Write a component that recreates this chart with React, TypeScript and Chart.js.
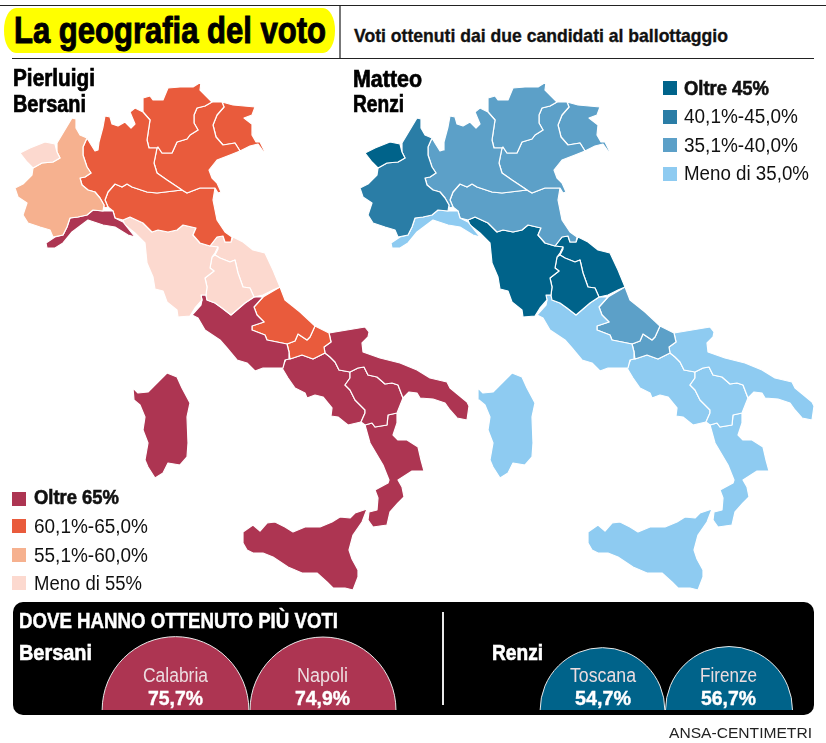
import React, { useEffect, useRef } from "react";
import { Chart, registerables, BubbleController } from "chart.js";

Chart.register(...registerables);

// Half discs are cut by the canvas edge, so the chart area must not shrink to fit full circles.
class DomeController extends BubbleController {
  static id = "dome";
  getMaxOverflow() {
    return 0;
  }
}
Chart.register(DomeController);

type Pt = [number, number];

// Region outlines, in the coordinates of the left-hand map.
const AOSTA: Pt[] = [[20,153],[30,148],[45,142],[55,144],[57,152],[60,158],[53,162],[42,163],[33,168],[27,162]];
const PIEMONTE: Pt[] = [[72,118],[76,119],[76,128],[80,135],[87,138],[83,147],[83,155],[87,167],[91,173],[85,177],[80,178],[82,185],[88,190],[95,192],[100,198],[104,205],[103,211],[93,210],[87,215],[78,217],[70,218],[67,227],[63,235],[53,237],[50,230],[40,227],[28,223],[23,215],[27,203],[18,197],[15,188],[23,184],[32,175],[33,168],[42,163],[53,162],[60,158],[57,152],[57,143],[63,133]];
const LIGURIA: Pt[] = [[70,218],[78,217],[87,215],[93,210],[103,211],[113,211],[115,218],[123,222],[135,237],[128,235],[115,227],[103,225],[88,220],[72,232],[63,243],[55,248],[47,248],[46,243],[55,237],[63,235],[67,227]];
const LOMBARDIA: Pt[] = [[105,116],[110,117],[112,124],[118,126],[125,122],[131,128],[135,124],[130,112],[135,108],[143,112],[150,120],[147,140],[149,148],[157,148],[154,163],[157,173],[167,180],[182,190],[157,193],[147,192],[132,187],[127,184],[122,187],[115,184],[108,192],[105,200],[108,207],[104,208],[104,205],[100,198],[95,192],[88,190],[82,185],[80,178],[85,177],[91,173],[87,167],[83,155],[83,147],[87,138],[90,143],[95,151],[98,150],[99,142],[103,127]];
const TRENTINO: Pt[] = [[143,98],[150,96],[153,100],[163,100],[168,88],[180,87],[193,87],[201,82],[200,90],[212,102],[205,106],[197,108],[194,115],[194,123],[198,130],[190,135],[187,139],[177,142],[172,153],[162,153],[158,147],[157,148],[149,148],[147,140],[150,120],[143,112],[143,105]];
const VENETO: Pt[] = [[212,102],[222,102],[224,107],[217,115],[213,125],[216,137],[223,145],[235,143],[240,151],[230,155],[217,160],[209,170],[212,178],[217,183],[221,192],[218,193],[215,188],[200,188],[187,193],[182,190],[167,180],[157,173],[154,163],[157,148],[158,147],[162,153],[172,153],[177,142],[187,139],[190,135],[198,130],[194,123],[194,115],[197,108],[205,106]];
const FRIULI: Pt[] = [[222,102],[233,105],[255,107],[252,115],[244,118],[253,125],[252,135],[256,142],[260,142],[265,152],[263,151],[258,144],[250,146],[240,151],[235,143],[223,145],[216,137],[213,125],[217,115],[224,107]];
const EMILIA: Pt[] = [[115,184],[122,187],[127,184],[132,187],[147,192],[157,193],[182,190],[187,193],[200,188],[215,188],[213,200],[217,220],[225,232],[232,237],[231,242],[225,242],[223,236],[217,237],[210,246],[200,243],[193,235],[196,228],[183,225],[177,230],[168,232],[158,230],[152,232],[143,223],[130,217],[123,220],[115,218],[113,211],[108,207],[105,200],[108,192]];
const TOSCANA: Pt[] = [[123,220],[130,217],[143,223],[152,232],[158,230],[168,232],[177,230],[183,225],[196,228],[193,235],[200,243],[210,246],[218,247],[215,253],[212,257],[210,268],[214,271],[205,278],[207,287],[206,295],[201,295],[202,300],[195,308],[190,316],[178,317],[177,310],[167,302],[163,291],[155,289],[153,277],[147,263],[145,243],[135,233],[125,225]];
const UMBRIA: Pt[] = [[215,255],[220,258],[230,262],[235,260],[238,273],[243,287],[250,288],[254,297],[245,303],[231,315],[222,308],[215,303],[207,300],[206,295],[207,287],[205,278],[214,271],[210,268],[212,257]];
const MARCHE: Pt[] = [[210,246],[217,237],[223,236],[225,242],[231,242],[233,237],[243,242],[253,250],[265,253],[273,270],[280,287],[273,290],[263,295],[254,297],[250,288],[243,287],[238,273],[235,260],[230,262],[220,258],[215,255],[218,249],[218,247]];
const LAZIO: Pt[] = [[192,315],[201,305],[202,300],[201,295],[206,295],[207,300],[215,303],[222,308],[231,315],[245,303],[254,297],[263,297],[254,307],[257,315],[264,322],[252,326],[252,330],[265,335],[267,340],[287,344],[289,352],[289,359],[285,360],[283,368],[273,368],[263,368],[255,371],[247,363],[237,360],[227,348],[220,340],[205,330],[198,318]];
const ABRUZZO: Pt[] = [[263,297],[280,287],[285,300],[300,312],[315,326],[310,337],[307,340],[298,334],[295,341],[287,344],[267,340],[265,335],[252,330],[252,326],[264,322],[257,315],[254,307]];
const MOLISE: Pt[] = [[315,326],[329,333],[331,342],[324,347],[325,353],[313,359],[302,355],[290,359],[289,352],[287,344],[295,341],[298,334],[307,340],[310,337]];
const PUGLIA: Pt[] = [[329,333],[347,330],[365,327],[369,332],[368,337],[362,343],[363,352],[380,358],[400,363],[417,370],[430,378],[447,382],[450,388],[467,402],[469,406],[467,420],[457,418],[450,410],[445,403],[433,399],[420,398],[417,393],[409,392],[403,398],[398,385],[392,383],[385,384],[377,377],[368,375],[364,367],[358,368],[350,372],[339,370],[335,362],[330,357],[325,353],[324,347],[331,342]];
const BASILICATA: Pt[] = [[350,372],[358,368],[364,367],[368,375],[377,377],[385,384],[392,383],[398,385],[403,398],[397,413],[388,415],[387,425],[375,427],[372,423],[365,425],[361,422],[365,413],[365,410],[355,400],[350,390],[345,385],[350,378]];
const CAMPANIA: Pt[] = [[282,368],[286,359],[290,359],[302,355],[313,359],[325,353],[330,357],[335,362],[339,370],[350,372],[350,378],[345,385],[350,390],[355,400],[365,410],[365,413],[361,422],[348,425],[338,417],[331,416],[332,408],[323,397],[315,395],[307,398],[305,393],[295,388],[288,378]];
const CALABRIA: Pt[] = [[365,425],[370,443],[383,465],[389,480],[388,483],[375,490],[378,498],[377,510],[369,512],[368,520],[373,527],[387,525],[390,512],[398,503],[404,497],[402,487],[398,480],[412,471],[424,471],[421,460],[418,447],[407,440],[398,440],[393,435],[397,423],[397,413],[388,415],[387,425],[375,427],[372,423]];
const SICILIA: Pt[] = [[243,532],[253,525],[260,531],[267,523],[275,522],[285,527],[293,532],[305,527],[320,527],[332,522],[340,517],[350,518],[355,513],[367,509],[362,522],[353,535],[349,550],[352,559],[358,570],[358,577],[353,590],[345,588],[333,588],[327,582],[317,573],[302,573],[288,567],[273,557],[263,553],[253,553],[247,550],[243,543]];
const SARDEGNA: Pt[] = [[133,388],[138,393],[148,392],[157,383],[167,373],[177,377],[182,388],[190,403],[187,417],[188,443],[187,457],[180,465],[168,463],[163,473],[155,478],[148,467],[145,460],[148,443],[143,430],[145,417],[140,405],[134,400]];

const REGIONS: Pt[][] = [AOSTA, PIEMONTE, LIGURIA, LOMBARDIA, TRENTINO, VENETO, FRIULI, EMILIA, TOSCANA, UMBRIA, MARCHE, LAZIO, ABRUZZO, MOLISE, PUGLIA, BASILICATA, CAMPANIA, CALABRIA, SICILIA, SARDEGNA];

// Vote class of each region, in the order of REGIONS: 0 = top band, 3 = lowest.
const BERSANI_CLASS = [3, 2, 0, 1, 1, 1, 1, 1, 3, 3, 3, 0, 1, 1, 0, 0, 0, 0, 0, 0];
const RENZI_CLASS = [0, 1, 3, 2, 2, 2, 2, 2, 0, 0, 0, 3, 2, 2, 3, 3, 3, 3, 3, 3];

const BERSANI_COLORS = ["#ad3552", "#e95b3c", "#f6b18f", "#fcd9cf"];
const RENZI_COLORS = ["#00638a", "#2a7da6", "#5ca0c8", "#8ecbf1"];
const BERSANI_LEGEND = ["Oltre 65%", "60,1%-65,0%", "55,1%-60,0%", "Meno di 55%"];
const RENZI_LEGEND = ["Oltre 45%", "40,1%-45,0%", "35,1%-40,0%", "Meno di 35,0%"];

const TOP_NAMES = ["Calabria", "Napoli", "Toscana", "Firenze"];
const TOP_VALUES = [75.7, 74.9, 54.7, 56.7];
const TOP_COLORS = [BERSANI_COLORS[0], BERSANI_COLORS[0], RENZI_COLORS[0], RENZI_COLORS[0]];

// Layout of the page
const W = 826;
const H = 743;
const RENZI_SHIFT = 345;
const DOME_CENTRES = [175.5, 323, 602.5, 729];
const DOME_SCALE = 8.43; // radius per square root of a percentage point
const DOME_BASE = 710;
const DOME_HEIGHT = 80;

const measure = document.createElement("canvas").getContext("2d")!;

type TextProps = {
  text: string; x: number; w: number; base: number; size: number;
  family?: string; weight?: number; color?: string; stroke?: number;
};

// Absolutely placed text, squeezed horizontally to a given width and set on a given baseline.
function Label({ text, x, w, base, size, family = "'Liberation Sans Narrow','Liberation Sans'", weight = 400, color = "#111", stroke = 0 }: TextProps) {
  const font = `${weight} ${size}px ${family}`;
  measure.font = font;
  const m = measure.measureText(text);
  const k = w / m.width;
  const asc = m.fontBoundingBoxAscent;
  const desc = m.fontBoundingBoxDescent;
  const top = base - ((size - (asc + desc)) / 2 + asc);
  return (
    <span style={{
      position: "absolute", left: x, top, font, lineHeight: `${size}px`, color, whiteSpace: "nowrap",
      transform: `scaleX(${k})`, transformOrigin: "0 0",
      WebkitTextStroke: stroke ? `${stroke}px ${color}` : undefined,
    }}>{text}</span>
  );
}

function regionDatasets(classes: number[], colors: string[], shift: number) {
  return REGIONS.map((outline, i) => ({
    data: [...outline, outline[0]].map(([x, y]) => ({ x: x + shift, y })),
    backgroundColor: colors[classes[i]],
    borderColor: "#ffffff",
    borderWidth: 1.2,
    borderJoinStyle: "round" as const,
    pointRadius: 0,
    tension: 0,
    fill: "shape",
    clip: false,
  }));
}

function Swatch({ x, y, color }: { x: number; y: number; color: string }) {
  return <div style={{ position: "absolute", left: x, top: y, width: 14, height: 14, background: color }} />;
}

function Rule({ x, y, w, h, color }: { x: number; y: number; w: number; h: number; color: string }) {
  return <div style={{ position: "absolute", left: x, top: y, width: w, height: h, background: color }} />;
}

export default function App() {
  const mapRef = useRef<HTMLCanvasElement>(null);
  const domeRef = useRef<HTMLCanvasElement>(null);

  useEffect(() => {
    const hiddenAxes = (xMax: number, yMax: number, reverse: boolean) => ({
      x: { type: "linear" as const, display: false, min: 0, max: xMax },
      y: { type: "linear" as const, display: false, min: 0, max: yMax, reverse },
    });
    const base = {
      responsive: false,
      animation: false as const,
      events: [],
      layout: { padding: 0 },
      plugins: { legend: { display: false }, tooltip: { enabled: false }, title: { display: false } },
    };

    const map = new Chart(mapRef.current!, {
      type: "line",
      data: {
        datasets: [
          ...regionDatasets(BERSANI_CLASS, BERSANI_COLORS, 0),
          ...regionDatasets(RENZI_CLASS, RENZI_COLORS, RENZI_SHIFT),
        ] as any,
      },
      options: { ...base, scales: hiddenAxes(W, H, true) } as any,
    });

    // The area of each half disc follows its percentage.
    const domes = new Chart(domeRef.current!, {
      type: "dome" as any,
      data: {
        datasets: [{
          data: TOP_VALUES.map((v, i) => ({ x: DOME_CENTRES[i], y: 0, r: DOME_SCALE * Math.sqrt(v) })),
          backgroundColor: TOP_COLORS,
          borderColor: "#e8e8e8",
          borderWidth: 1,
          clip: 0,
        }],
      },
      options: { ...base, scales: hiddenAxes(W, DOME_HEIGHT, false) } as any,
    });

    return () => {
      map.destroy();
      domes.destroy();
    };
  }, []);

  const legendRowsR = [95, 123, 152, 180];
  const legendRowsB = [504, 533, 562, 590];
  const legendWidthsR = [85, 114, 114, 125];
  const legendWidthsB = [85, 114, 114, 108];
  const swatchRowsR = [81, 110, 138, 167];
  const swatchRowsB = [492, 519, 548, 576];
  const domeLabels = [
    { nx: 143, nw: 65, vx: 148, vw: 55 },
    { nx: 297, nw: 51, vx: 295, vw: 55 },
    { nx: 570, nw: 66, vx: 575, vw: 56 },
    { nx: 700, nw: 57, vx: 701, vw: 55 },
  ];

  return (
    <div style={{ position: "absolute", left: 0, top: 0, width: W, height: H, background: "#fff", overflow: "hidden", fontFamily: "'Liberation Sans'" }}>
      <Rule x={0} y={5} w={W} h={1} color="#222" />
      <Rule x={12} y={58} w={802} h={1} color="#222" />
      <div style={{ position: "absolute", left: 4, top: 8, width: 331, height: 45, background: "#ffff00", borderRadius: "12px / 22px" }} />
      <Rule x={339} y={6} w={1.5} h={52} color="#777" />
      <Label text="La geografia del voto" x={14} w={312} base={43} size={37} weight={700} color="#000" stroke={1} />
      <Label text="Voti ottenuti dai due candidati al ballottaggio" x={354} w={374} base={42} size={19} weight={700} color="#111" stroke={0.35} />

      <canvas ref={mapRef} width={W} height={H} style={{ position: "absolute", left: 0, top: 0, display: "block" }} />

      <Label text="Pierluigi" x={13} w={82} base={86} size={23} weight={700} color="#000" stroke={0.7} />
      <Label text="Bersani" x={13} w={73} base={112} size={23} weight={700} color="#000" stroke={0.7} />
      <Label text="Matteo" x={353} w={69} base={87} size={23} weight={700} color="#000" stroke={0.7} />
      <Label text="Renzi" x={353} w={51} base={112} size={23} weight={700} color="#000" stroke={0.7} />

      {RENZI_LEGEND.map((t, i) => (
        <React.Fragment key={t}>
          <Swatch x={663} y={swatchRowsR[i]} color={RENZI_COLORS[i]} />
          <Label text={t} x={684} w={legendWidthsR[i]} base={legendRowsR[i]} size={20} weight={i === 0 ? 700 : 400} color="#111" stroke={i === 0 ? 0.6 : 0} />
        </React.Fragment>
      ))}
      {BERSANI_LEGEND.map((t, i) => (
        <React.Fragment key={t}>
          <Swatch x={12} y={swatchRowsB[i]} color={BERSANI_COLORS[i]} />
          <Label text={t} x={34} w={legendWidthsB[i]} base={legendRowsB[i]} size={20} weight={i === 0 ? 700 : 400} color="#111" stroke={i === 0 ? 0.6 : 0} />
        </React.Fragment>
      ))}

      <div style={{ position: "absolute", left: 13, top: 602, width: 801, height: 113, background: "#000", borderRadius: 10 }} />
      <Rule x={442} y={612} w={2} h={93} color="#e8e8e8" />
      <canvas ref={domeRef} width={W} height={DOME_HEIGHT} style={{ position: "absolute", left: 0, top: DOME_BASE - DOME_HEIGHT, display: "block" }} />
      <Label text="DOVE HANNO OTTENUTO PIÙ VOTI" x={19} w={319} base={628} size={22} weight={700} color="#fff" stroke={0.5} />
      <Label text="Bersani" x={19} w={73} base={660} size={22} weight={700} color="#fff" stroke={0.6} />
      <Label text="Renzi" x={492} w={51} base={660} size={22} weight={700} color="#fff" stroke={0.6} />
      {TOP_NAMES.map((name, i) => (
        <React.Fragment key={name}>
          <Label text={name} x={domeLabels[i].nx} w={domeLabels[i].nw} base={682} size={20} color="#ecdde0" />
          <Label text={`${String(TOP_VALUES[i]).replace(".", ",")}%`} x={domeLabels[i].vx} w={domeLabels[i].vw} base={705} size={20} weight={700} color="#fff" stroke={0.4} />
        </React.Fragment>
      ))}
      <Label text="ANSA-CENTIMETRI" x={669} w={143} base={738} size={15} family="'Liberation Sans'" color="#222" />
    </div>
  );
}
